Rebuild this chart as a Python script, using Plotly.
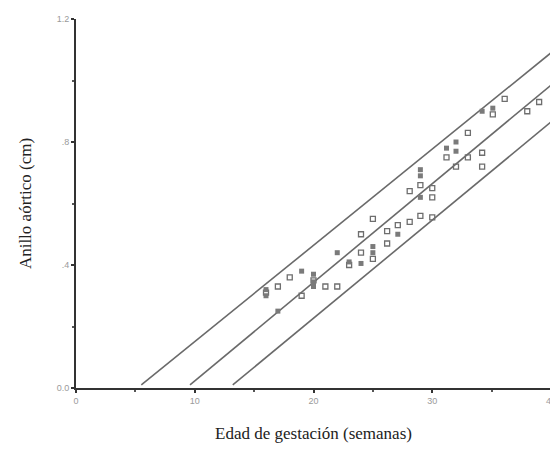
import plotly.graph_objects as go

# Data
edad_abiertos = [16, 17, 18, 19, 20, 21, 22, 23, 24, 24, 25, 25, 26.2, 26.2, 27.1, 28.1, 28.1, 29, 29,
                 30, 30, 30, 31.2, 32, 33, 33, 34.2, 34.2, 35.1, 36.1, 38, 39]
anillo_abiertos = [0.31, 0.33, 0.36, 0.30, 0.35, 0.33, 0.33, 0.40, 0.44, 0.50, 0.55, 0.42, 0.47, 0.51, 0.53,
                   0.54, 0.64, 0.56, 0.66, 0.62, 0.65, 0.555, 0.75, 0.72, 0.75, 0.83, 0.765, 0.72, 0.89,
                   0.94, 0.90, 0.93]
edad_llenos = [16, 16, 17, 19, 20, 20, 20, 22, 23, 24, 25, 25, 27.1, 29, 29, 29, 31.2, 32, 32, 34.2, 35.1]
anillo_llenos = [0.32, 0.30, 0.25, 0.38, 0.33, 0.37, 0.345, 0.44, 0.41, 0.405, 0.44, 0.46, 0.50, 0.62,
                 0.69, 0.71, 0.78, 0.77, 0.80, 0.90, 0.91]

linea_sup_x = [5.5, 40]
linea_sup_y = [0.01, 1.09]
linea_med_x = [9.6, 40]
linea_med_y = [0.01, 0.985]
linea_inf_x = [13.2, 40]
linea_inf_y = [0.01, 0.865]

x_ticks = [0, 10, 20, 30, 40]
x_ticktext = ["0", "10", "20", "30", "40"]
y_ticks = [0, 0.4, 0.8, 1.2]
y_ticktext = ["0.0", ".4", ".8", "1.2"]

fig = go.Figure()
for lx, ly in [(linea_sup_x, linea_sup_y), (linea_med_x, linea_med_y), (linea_inf_x, linea_inf_y)]:
    fig.add_trace(go.Scatter(x=lx, y=ly, mode="lines",
                             line=dict(color="#6a6a6a", width=1.6), showlegend=False, hoverinfo="skip"))

fig.add_trace(go.Scatter(x=edad_abiertos, y=anillo_abiertos, mode="markers",
                         marker=dict(symbol="square-open", size=5, color="#6e6e6e", line=dict(width=1.3)),
                         showlegend=False))
fig.add_trace(go.Scatter(x=edad_llenos, y=anillo_llenos, mode="markers",
                         marker=dict(symbol="square", size=5, color="#7a7a7a"),
                         showlegend=False))

# page body has an 8px margin, so the figure is sized/offset to compensate
fig.update_layout(
    width=550, height=458,
    margin=dict(l=68, r=7, t=11, b=78),
    plot_bgcolor="white", paper_bgcolor="white",
    font=dict(family="Liberation Serif", size=17, color="#222"),
)
fig.update_xaxes(
    range=[0, 40], tickvals=x_ticks, ticktext=x_ticktext, automargin=False,
    showgrid=False, zeroline=False, showline=True, linecolor="#333", linewidth=2,
    ticks="outside", ticklen=3, tickwidth=2, tickcolor="#333",
    minor=dict(tick0=0, dtick=5, ticks="outside", ticklen=2, tickwidth=1.5, tickcolor="#555"),
    tickfont=dict(family="Liberation Sans", size=9, color="#9a9a9a"),
    title=dict(text="Edad de gestación (semanas)", standoff=22,
               font=dict(family="Liberation Serif", size=17, color="#222")),
)
fig.update_yaxes(
    range=[0, 1.2], tickvals=y_ticks, ticktext=y_ticktext, automargin=False,
    showgrid=False, zeroline=False, showline=True, linecolor="#333", linewidth=2,
    ticks="outside", ticklen=3, tickwidth=2, tickcolor="#333",
    minor=dict(tick0=0, dtick=0.2, ticks="outside", ticklen=2, tickwidth=1.5, tickcolor="#555"),
    tickfont=dict(family="Liberation Sans", size=9, color="#9a9a9a"),
    title=dict(text="Anillo aórtico (cm)", standoff=21,
               font=dict(family="Liberation Serif", size=17, color="#222")),
)

fig.write_html("out.html")
